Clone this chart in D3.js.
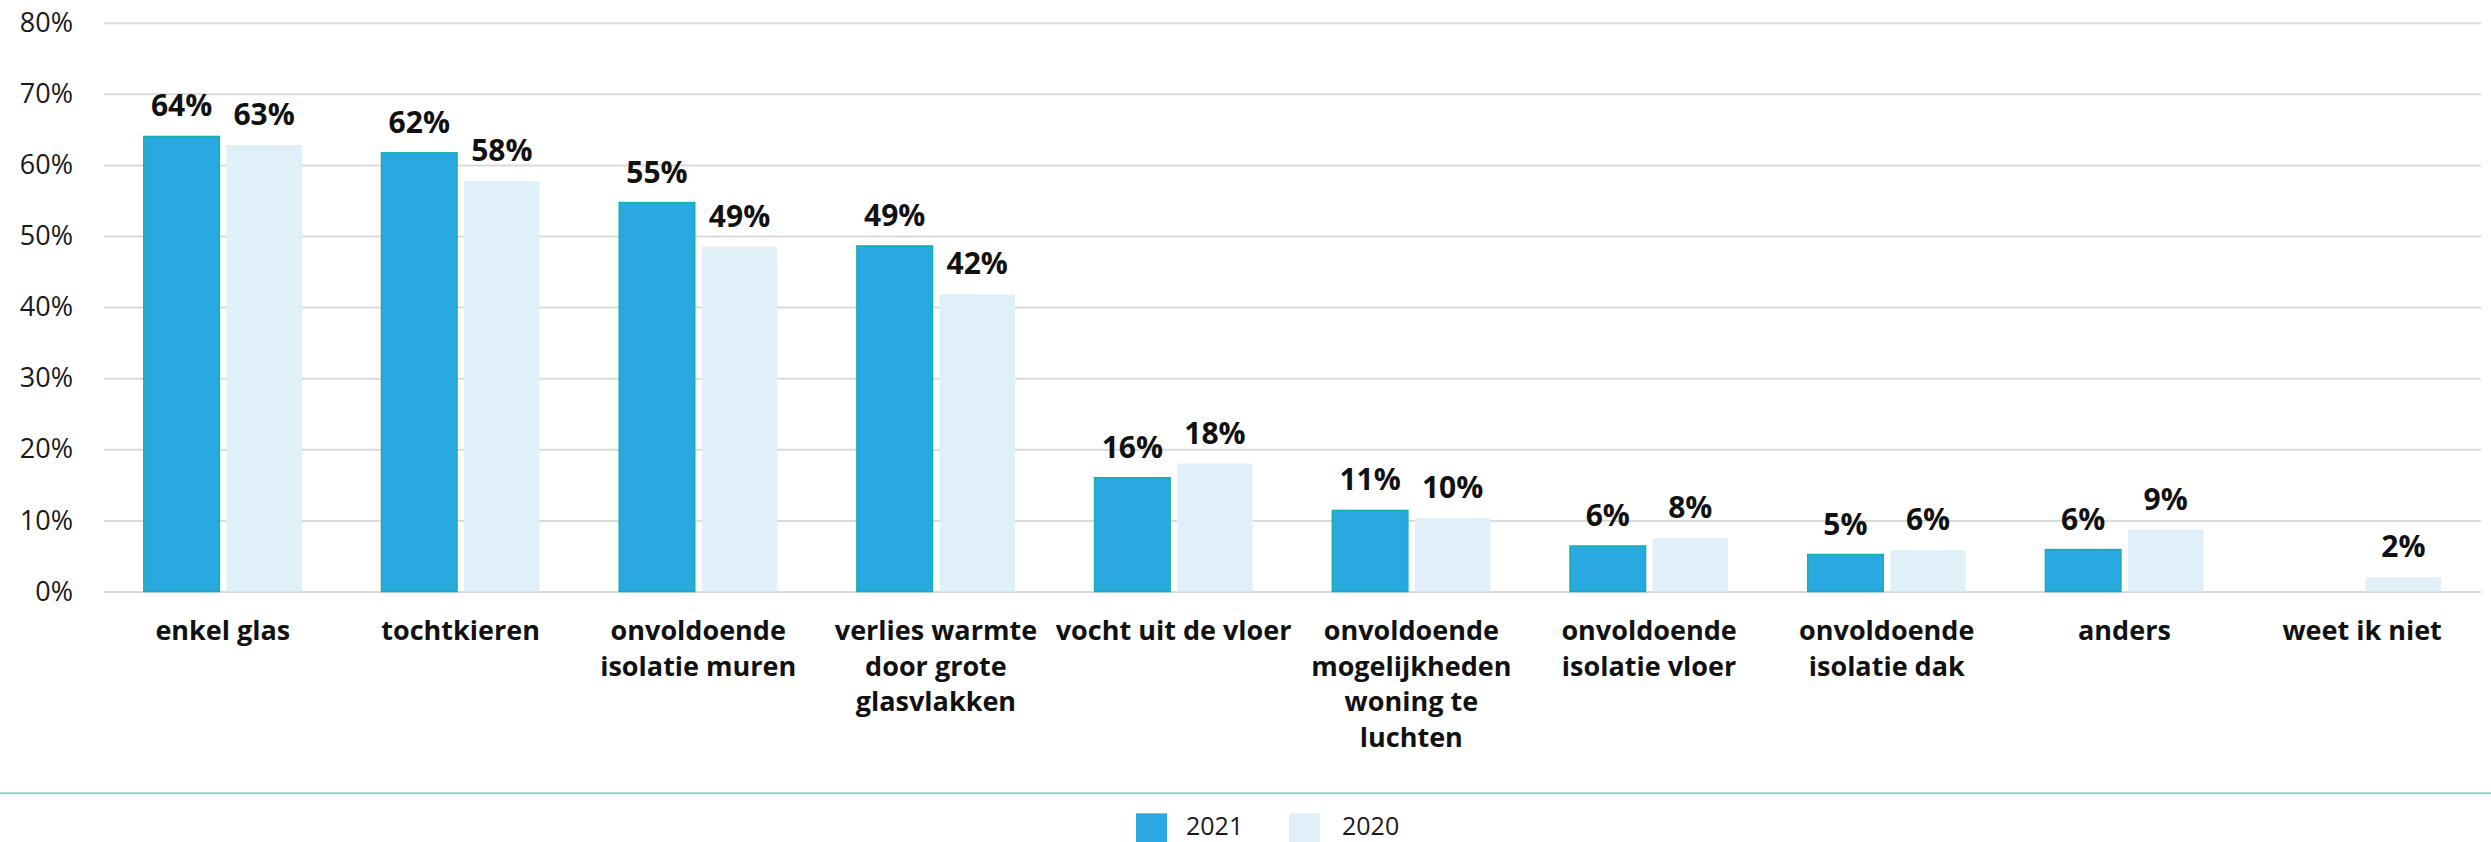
<!DOCTYPE html>
<html>
<head>
<meta charset="utf-8">
<script src="https://cdn.jsdelivr.net/npm/d3@7"></script>
<style>
  html, body { margin: 0; padding: 0; background: #fff; }
  svg { display: block; font-family: 'Open Sans', sans-serif; }
</style>
</head>
<body>
<div id="chart"></div>
<script>
// categories (line breaks as in the original labels)
const categories = [
  'enkel glas',
  'tochtkieren',
  'onvoldoende\nisolatie muren',
  'verlies warmte\ndoor grote\nglasvlakken',
  'vocht uit de vloer',
  'onvoldoende\nmogelijkheden\nwoning te\nluchten',
  'onvoldoende\nisolatie vloer',
  'onvoldoende\nisolatie dak',
  'anders',
  'weet ik niet'
];

const series = ['2021', '2020'];

// percentages
const values2021 = [64.0, 61.7, 54.7, 48.6, 16.0, 11.4, 6.4, 5.2, 5.9, null];
const values2020 = [62.8, 57.7, 48.5, 41.8, 18.0, 10.3, 7.5, 5.8, 8.7, 2.0];

const yTicks = [0, 10, 20, 30, 40, 50, 60, 70, 80];

const width = 2491;
const height = 842;
const margin = { top: 22.7, right: 10, bottom: 250.5, left: 104 };

const colors = { '2021': '#29a9e0', '2020': '#dff0f8' };

const data = categories.map((c, i) => ({
  category: c,
  values: [
    { key: '2021', value: values2021[i] },
    { key: '2020', value: values2020[i] }
  ]
}));

const svg = d3.select('#chart')
  .append('svg')
  .attr('width', width)
  .attr('height', height);

const x0 = d3.scaleBand()
  .domain(categories)
  .range([margin.left, width - margin.right])
  .paddingInner(0.335)
  .paddingOuter(0.1675);

const x1 = d3.scaleBand()
  .domain(series)
  .range([0, x0.bandwidth()])
  .paddingInner(0.085);

const y = d3.scaleLinear()
  .domain([0, 80])
  .range([height - margin.bottom, margin.top]);

// gridlines + tick labels
const yAxis = svg.append('g')
  .attr('transform', 'translate(' + margin.left + ',0)')
  .call(d3.axisLeft(y)
    .tickValues(yTicks)
    .tickSize(-(width - margin.left - margin.right))
    .tickPadding(31)
    .tickFormat(d => d + '%'));

yAxis.select('.domain').remove();
yAxis.selectAll('.tick line')
  .attr('stroke', '#dadada')
  .attr('stroke-width', 2);
yAxis.selectAll('.tick text')
  .attr('fill', '#1a1a1a')
  .style('font-size', '27px')
  .style('font-family', "'Open Sans', sans-serif");

// bars
const groups = svg.append('g')
  .selectAll('g')
  .data(data)
  .enter()
  .append('g')
  .attr('transform', d => 'translate(' + x0(d.category) + ',0)');

const bars = groups.selectAll('g.bar')
  .data(d => d.values.filter(v => v.value != null))
  .enter()
  .append('g')
  .attr('class', 'bar');

bars.append('rect')
  .attr('x', d => x1(d.key))
  .attr('y', d => y(d.value))
  .attr('width', x1.bandwidth())
  .attr('height', d => y(0) - y(d.value))
  .attr('fill', d => colors[d.key])
  .attr('stroke', d => d.key === '2021' ? '#14b1aa' : 'none')
  .attr('stroke-width', 1.5);

bars.append('text')
  .attr('x', d => x1(d.key) + x1.bandwidth() / 2)
  .attr('y', d => y(d.value) - 20)
  .attr('text-anchor', 'middle')
  .attr('fill', '#111')
  .style('font-size', '30px')
  .style('font-weight', 700)
  .text(d => Math.round(d.value) + '%');

// category labels
const catLabels = svg.append('g')
  .selectAll('text')
  .data(categories)
  .enter()
  .append('text')
  .attr('x', d => x0(d) + x0.bandwidth() / 2)
  .attr('y', y(0) + 48.5)
  .attr('text-anchor', 'middle')
  .attr('fill', '#111')
  .style('font-size', '27px')
  .style('font-weight', 700);

catLabels.selectAll('tspan')
  .data(d => d.split('\n'))
  .enter()
  .append('tspan')
  .attr('x', function () { return d3.select(this.parentNode).attr('x'); })
  .attr('dy', (d, i) => i === 0 ? 0 : 35.5)
  .text(d => d);

// separator line above legend
svg.append('line')
  .attr('x1', 0)
  .attr('x2', width)
  .attr('y1', 793.3)
  .attr('y2', 793.3)
  .attr('stroke', '#8fd2d5')
  .attr('stroke-width', 2);

// legend
const legendX = [1136, 1289];
const legend = svg.append('g')
  .selectAll('g')
  .data(series)
  .enter()
  .append('g')
  .attr('transform', (d, i) => 'translate(' + legendX[i] + ',813.3)');

legend.append('rect')
  .attr('width', 31)
  .attr('height', 31)
  .attr('fill', d => colors[d]);

legend.append('text')
  .attr('x', (d, i) => i === 0 ? 50 : 53)
  .attr('y', 22)
  .attr('fill', '#1a1a1a')
  .style('font-size', '25px')
  .text(d => d);
</script>
</body>
</html>
